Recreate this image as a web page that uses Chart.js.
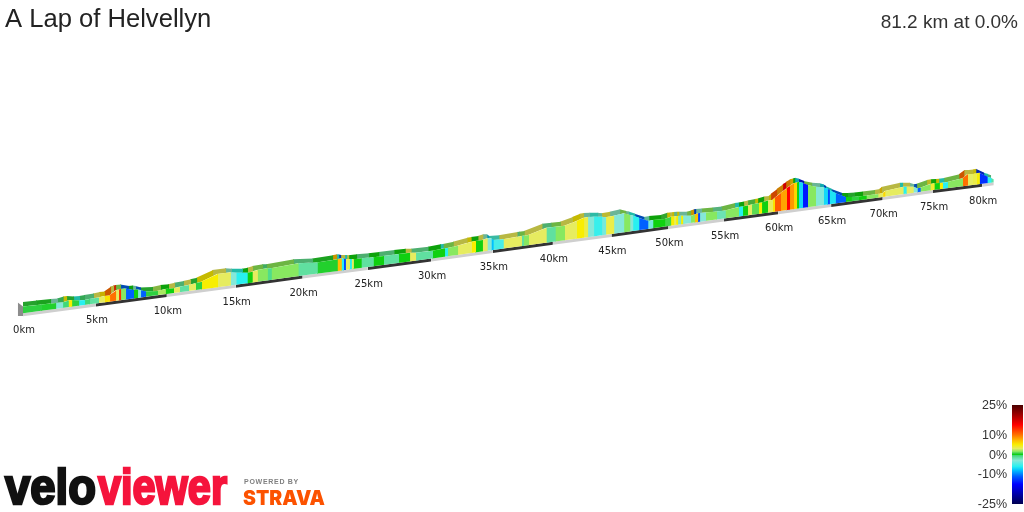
<!DOCTYPE html>
<html><head><meta charset="utf-8">
<style>html,body{margin:0;padding:0;background:#fff}canvas{display:block}</style>
<script src="https://cdn.jsdelivr.net/npm/chart.js@4"></script></head>
<body><canvas id="c" width="1024" height="512"></canvas>
<script>
// distance (km) of each gradient break
const breakKm = [0,1.23,2.19,2.67,3.05,3.29,3.77,4.18,4.52,5.14,5.56,5.92,6.34,6.55,6.69,7.04,7.60,7.89,8.10,8.45,9.29,9.86,10.44,10.87,11.52,12.03,12.47,13.63,14.57,15,15.82,16.19,16.57,17.31,17.61,19.63,21.08,22.61,22.92,23.08,23.23,23.54,23.69,23.85,24.46,25.40,26.19,27.38,28.26,28.73,30.08,31.05,31.29,32.10,33.22,33.55,34.11,34.51,34.84,35,35.83,37.33,37.50,37.92,39.41,40.17,40.95,41.98,42.59,42.93,43.45,44.14,44.48,45.18,46.05,46.58,46.84,47.37,48.16,48.60,49.65,50.18,50.45,50.63,50.80,51.07,51.25,51.96,52.32,52.59,52.77,53.30,54.29,55.09,56.30,56.67,57.13,57.50,58.15,58.43,58.98,59.44,59.63,60.19,60.75,61.04,61.41,61.70,61.89,62.26,62.73,63.49,64.24,64.62,64.81,65.38,66.35,66.92,67.60,68.37,69.52,70,70.2,72.0,72.3,73.0,73.4,73.7,74.7,75.10,75.61,75.92,76.43,77.96,78.47,78.98,79.39,79.69,80.5,80.9,81.2];
// projected height of the ride at each break
const profile = [205.5,207.5,209,209.5,211.5,212,211.5,212,213,214.5,216,216.5,221.5,222.5,223,223.5,222,222.5,222,220.5,221,223,223.7,225.3,227,228.7,230.3,238,239.7,239.3,239.3,240.3,242,243.7,243.7,248.7,249.5,252.7,253.7,253.5,253,253,253,252.7,253.7,254.7,256,258,259.3,259.3,261.3,263.7,264,266.3,270.3,271,272,273.7,273.7,272,272.7,276,276.3,277,284.3,285.3,286.3,291,294.3,295,295.3,295.3,294.7,296.3,298.7,297,296.5,294.3,291,292,293,295.3,295.5,295.7,296,296.3,296.3,296.3,297.5,298.7,299,299.5,300.5,301.5,305,305.5,306.5,307.5,309,309.5,311.5,312,314,319,323.7,326,328.7,329.5,330.3,329.3,327,325.3,324.7,323.5,322,319,315,315,315.5,316.5,318,319,321,325.3,325.3,325.3,323.7,324.3,328,328.7,329,329.3,330,333.7,338,338,338.5,339.3,335.3,334,332.7];
// gradient (%) of the stretch that starts at each break
const gradient = [0.5,0.3,-3,-0.5,5,0.5,-6,-0.5,-1.5,3,5.5,10,3,13,1.5,-11,0,-3,-11,0.5,2,0,3,-1.5,3,0.5,5,3,-3,-6,0,3,1.5,-1,1.5,-1.5,0.3,7,-6,-12,3,-6,3,0,-1.5,0,-1.5,0,3,-1.5,0,-6,1.5,3,5,0,3,-3,-8,-5,3,-1.5,1.5,3,-1.5,1.5,3,5,3.5,-3,-5.5,-3.5,3.5,-3,1.5,-3,-6,-11,-3.5,0,0.7,5,3,5,-2.5,5,-3,1.5,7,-12,-3,1.5,-2,1.5,-6,0,3,1,5,0,3,5.5,11,8,15,8.5,6,0,-7,-14,1.5,-3,-7,-12,-6.5,-11,0,0.5,0,1.5,3,6,3,-6,3,-3,-11,1.5,4,0,5,-6,1.5,10,3,3.5,5,-13,-6,-1.5];
// labelled distances and the road base beneath them
const tickKm = [0,5,10,15,20,25,30,35,40,45,50,55,60,65,70,75,80];
const baseEnd = [0,5,10,15,20,25,30,35,40,45,50,55,60,65,70,75,80,81.2];
const baseHeight = [198.7,208.6,218.1,227.2,236.4,245,253.5,262,270.2,278,286,293.5,300.8,308,315,322,328.2,329.8];
// colour scale
const scaleStops = [[25,'#4a0000'],[20,'#a00000'],[15,'#ff0000'],[10,'#ff7000'],[7,'#ffbe00'],[5,'#f8ee00'],[3,'#e6ec60'],[1.5,'#88e860'],[0.5,'#2ed040'],[0,'#10d010'],[-0.5,'#40d878'],[-1.5,'#60e0a0'],[-3,'#85e8d8'],[-6,'#28f0f0'],[-8,'#00c0ff'],[-11,'#0060ff'],[-15,'#0000ff'],[-25,'#000050']];
const scaleLabels = [25,10,0,-10,-25];

function rgb(h){return [1,3,5].map(i=>parseInt(h.substr(i,2),16));}
function colourFor(g){
  for(let i=0;i<scaleStops.length-1;i++){
    const [a,ca]=scaleStops[i],[b,cb]=scaleStops[i+1];
    if(g<=a&&g>=b){const t=(a-g)/(a-b),A=rgb(ca),B=rgb(cb);return A.map((v,k)=>Math.round(v+(B[k]-v)*t));}
  }
  return rgb(scaleStops[0][1]);
}
const css=c=>`rgb(${c[0]},${c[1]},${c[2]})`;
const dark=c=>[c[0]*0.8,c[1]*0.78,c[2]*0.7].map(Math.round);

// road recedes from the viewer: distance is drawn in perspective
class PerspectiveScale extends Chart.LinearScale{
  getPixelForValue(v){return this.left+23+14.8*v/(1+0.00293*v);}
  getValueForPixel(p){const x=p-this.left-23;return x/(14.8-0.00293*x);}
}
PerspectiveScale.id='perspective';
PerspectiveScale.defaults=Chart.LinearScale.defaults;
Chart.register(PerspectiveScale);

const base={type:'line',data:baseEnd.map((x,i)=>({x,y:baseHeight[i]})),borderWidth:0,borderColor:'transparent',pointRadius:0,fill:false,order:9};
const road={type:'line',data:breakKm.map((x,i)=>({x,y:profile[i]})),borderWidth:0,borderColor:'transparent',pointRadius:0,fill:false,order:9};
const datasets=[base,road];
const backKm=0.35, backLift=4, seam=0.08;
// left cap of the block
datasets.push({data:[{x:-backKm,y:profile[0]+backLift},{x:0,y:profile[0]}],fill:{target:{value:196},above:'#8c8c8c',below:'#8c8c8c'},borderWidth:0,pointRadius:0,order:6});
// top faces
gradient.forEach((g,i)=>{
  const c=css(dark(colourFor(g)));
  datasets.push({data:[{x:breakKm[i]-backKm,y:profile[i]+backLift},{x:breakKm[i+1]-backKm+seam,y:profile[i+1]+backLift}],fill:{target:1,above:c,below:c},borderWidth:0,borderColor:c,pointRadius:0,order:5});
});
// front faces
gradient.forEach((g,i)=>{
  const c=css(colourFor(g));
  const last=i===gradient.length-1;
  datasets.push({data:[{x:breakKm[i],y:profile[i]},{x:breakKm[i+1]+(last?0:seam),y:profile[i+1]}],fill:{target:0,above:c,below:c},borderWidth:0,borderColor:c,pointRadius:0,order:3});
});
// road strip under the block, alternating every 5 km
baseEnd.slice(0,-1).forEach((k,i)=>{
  const c=(i%2)?'#333333':'#cfcfcf';
  datasets.push({data:[{x:k,y:baseHeight[i]-3},{x:baseEnd[i+1],y:baseHeight[i+1]-3}],fill:{target:0,above:c,below:c},borderWidth:0,borderColor:c,pointRadius:0,order:4});
});

const textPlugin={id:'texts',afterDraw(chart){
  const ctx=chart.ctx,xs=chart.scales.x,ys=chart.scales.y;
  ctx.save();
  ctx.textBaseline='alphabetic';
  ctx.fillStyle='#222';ctx.textAlign='left';ctx.font='25.6px "Liberation Sans"';
  ctx.fillText('A Lap of Helvellyn',5,27);
  ctx.textAlign='right';ctx.font='19px "Liberation Sans"';
  ctx.fillStyle='#333';
  ctx.fillText('81.2 km at 0.0%',1018,28);
  // km labels
  ctx.font='10px "DejaVu Sans"';ctx.textAlign='center';ctx.fillStyle='#222';
  tickKm.forEach((k,i)=>{
    ctx.fillText(k+'km',xs.getPixelForValue(k)+1,ys.getPixelForValue(baseHeight[i])+20);
  });
  // colour bar
  const top=405,bot=504,px=v=>top+(25-v)*(bot-top)/50;
  const grd=ctx.createLinearGradient(0,top,0,bot);
  scaleStops.forEach(([v,c])=>grd.addColorStop((25-v)/50,c));
  ctx.fillStyle=grd;ctx.fillRect(1012,top,11,bot-top);
  ctx.fillStyle='#333';ctx.textAlign='right';ctx.font='12.5px "Liberation Sans"';
  scaleLabels.forEach(v=>ctx.fillText(v+'%',1007,px(v)+4));
  // logo
  ctx.textAlign='left';ctx.lineJoin='miter';ctx.lineWidth=2.5;
  ctx.font='bold 50px "Liberation Sans"';
  ctx.fillStyle=ctx.strokeStyle='#111';
  ctx.fillText('velo',5,504,91);ctx.strokeText('velo',5,504,91);
  ctx.fillStyle=ctx.strokeStyle='#f5143c';
  ctx.fillText('viewer',98,504,129);ctx.strokeText('viewer',98,504,129);
  ctx.fillStyle='#808080';ctx.font='bold 8px "Liberation Sans"';ctx.letterSpacing='0.8px';
  ctx.fillText('POWERED BY',244,484,55);
  ctx.letterSpacing='0px';
  ctx.fillStyle='#fc5200';ctx.font='900 20px Inter';
  ctx.fillText('STRAVA',243,505,82);
  ctx.restore();
}};

new Chart(document.getElementById('c'),{
  type:'line',
  data:{datasets},
  options:{responsive:false,animation:false,devicePixelRatio:1,
    layout:{padding:0},
    elements:{line:{tension:0}},
    plugins:{legend:{display:false},tooltip:{enabled:false},filler:{propagate:false}},
    scales:{
      x:{type:'perspective',min:-1,max:82,display:false},
      y:{type:'linear',min:0,max:512,display:false}
    }},
  plugins:[textPlugin]
});
</script></body></html>
